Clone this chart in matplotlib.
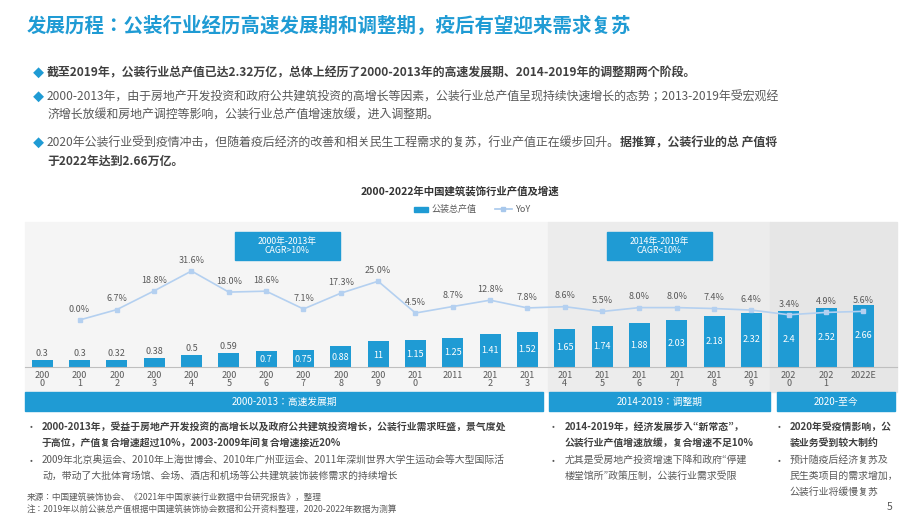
import matplotlib
matplotlib.use("Agg")
import matplotlib.pyplot as plt
from matplotlib.patches import Rectangle

plt.rcParams['font.family'] = ['Noto Sans CJK JP', 'DejaVu Sans']

years = ["200\n0","200\n1","200\n2","200\n3","200\n4","200\n5","200\n6","200\n7","200\n8","200\n9",
         "201\n0","2011","201\n2","201\n3","201\n4","201\n5","201\n6","201\n7","201\n8","201\n9",
         "202\n0","202\n1","2022E"]
output = [0.3,0.3,0.32,0.38,0.5,0.59,0.7,0.75,0.88,1.1,1.15,1.25,1.41,1.52,1.65,1.74,1.88,2.03,2.18,2.32,2.4,2.52,2.66]
output_labels = ["0.3","0.3","0.32","0.38","0.5","0.59","0.7","0.75","0.88","11","1.15","1.25","1.41","1.52",
                 "1.65","1.74","1.88","2.03","2.18","2.32","2.4","2.52","2.66"]
yoy = [None,0.0,6.7,18.8,31.6,18.0,18.6,7.1,17.3,25.0,4.5,8.7,12.8,7.8,8.6,5.5,8.0,8.0,7.4,6.4,3.4,4.9,5.6]

W, H = 920, 518
fig = plt.figure(figsize=(9.2, 5.18), dpi=100)
BLUE = '#1f9bd4'
DARK = '#404040'
GRAY = '#595959'

def fx(x): return x / W
def fy(y): return 1 - y / H
def T(x, y, s, **kw):
    kw.setdefault('va', 'center')
    return fig.text(fx(x), fy(y), s, **kw)

def seg(x, y, parts, size):
    r = fig.canvas.get_renderer()
    for s, bold in parts:
        t = T(x, y, s, fontsize=size, color=DARK if bold else GRAY, fontweight='bold' if bold else 'normal')
        bb = t.get_window_extent(r)
        x += bb.width

# Title
T(27, 26, "发展历程：公装行业经历高速发展期和调整期，疫后有望迎来需求复苏", fontsize=14, fontweight='bold', color=BLUE)

# top bullets
tfs = 8.6
for y in (73, 97, 143):
    T(33, y, "◆", fontsize=8, color=BLUE)
seg(47, 73, [("截至2019年，公装行业总产值已达2.32万亿，总体上经历了2000-2013年的高速发展期、2014-2019年的调整期两个阶段。", True)], tfs)
seg(47, 97, [("2000-2013年，由于房地产开发投资和政府公共建筑投资的高增长等因素，公装行业总产值呈现持续快速增长的态势；2013-2019年受宏观经", False)], tfs)
seg(47, 115, [("济增长放缓和房地产调控等影响，公装行业总产值增速放缓，进入调整期。", False)], tfs)
seg(47, 143, [("2020年公装行业受到疫情冲击，但随着疫后经济的改善和相关民生工程需求的复苏，行业产值正在缓步回升。", False), ("据推算，公装行业的总 产值将", True)], tfs)
seg(47, 161, [("于2022年达到2.66万亿。", True)], tfs)

# chart title & legend
T(460, 191, "2000-2022年中国建筑装饰行业产值及增速", fontsize=7.5, fontweight='bold', color='#333333', ha='center')
fig.patches.append(Rectangle((fx(414), fy(212)), 14/W, 5/H, transform=fig.transFigure, color=BLUE))
T(432, 209, "公装总产值", fontsize=6.5, color=GRAY)
fig.add_artist(plt.Line2D([fx(495), fx(512)], [fy(209), fy(209)], transform=fig.transFigure, color='#a8c8ec', lw=1.2))
fig.add_artist(plt.Line2D([fx(503.5)], [fy(209)], transform=fig.transFigure, marker='s', ms=3, color='#a8c8ec'))
T(516, 209, "YoY", fontsize=6.5, color=GRAY)

# background regions
for x0, x1, c in [(25, 548, '#f5f5f5'), (548, 770, '#ececec'), (770, 897, '#e6e6e6')]:
    fig.patches.append(Rectangle((fx(x0), fy(392)), (x1 - x0) / W, 170 / H, transform=fig.transFigure, color=c, zorder=-1))

# axes
ax = fig.add_axes([fx(25), fy(367), (897 - 25) / W, (367 - 222) / H], zorder=2)
ax.patch.set_alpha(0)
n = len(output)
xs = list(range(n))
ax.bar(xs, output, width=0.56, color=BLUE, zorder=2)
ax.set_xlim(-0.46, 22.9)
ax.set_ylim(0, 6.22)
for i, (v, lab) in enumerate(zip(output, output_labels)):
    if i < 6:
        ax.text(i, v + 0.08, lab, ha='center', va='bottom', fontsize=6.5, color=GRAY)
    else:
        ax.text(i, v / 2 if v > 1.2 else v * 0.45, lab, ha='center', va='center', fontsize=6.5, color='white')
ax.set_xticks(xs)
ax.set_xticklabels(years, fontsize=6.5, color=GRAY, linespacing=0.9)
ax.tick_params(axis='x', length=0, pad=3)
ax.set_yticks([])
for s in ('top', 'right', 'left'):
    ax.spines[s].set_visible(False)
ax.spines['bottom'].set_color('#bfbfbf')

ax2 = ax.twinx()
ax2.set_ylim(-30.3, 63.2)
lx = [i for i in xs if yoy[i] is not None]
ly = [yoy[i] for i in lx]
ax2.plot(lx, ly, color='#b4d0f0', lw=1.2, marker='s', ms=3.5, zorder=3)
for i, v in zip(lx, ly):
    ax2.text(i, v + 4, f"{v:.1f}%", ha='center', va='bottom', fontsize=6.5, color=GRAY)
ax2.axis('off')

# CAGR boxes
for x0, s in [(235, "2000年-2013年\nCAGR>10%"), (607, "2014年-2019年\nCAGR<10%")]:
    fig.patches.append(Rectangle((fx(x0), fy(260)), 105 / W, 28 / H, transform=fig.transFigure, color=BLUE, zorder=5))
    T(x0 + 52.5, 246, s, fontsize=6.3, color='white', ha='center', linespacing=1.0, zorder=6)

# period bands
for x0, x1, s in [(25, 543, "2000-2013：高速发展期"), (549, 770, "2014-2019：调整期"), (777, 895, "2020-至今")]:
    fig.patches.append(Rectangle((fx(x0), fy(411)), (x1 - x0) / W, 19 / H, transform=fig.transFigure, color=BLUE, zorder=5))
    T((x0 + x1) / 2, 401.5, s, fontsize=7, color='white', ha='center', zorder=6)

# lower bullets
fs = 7.1
for x, y in [(30, 427), (30, 460), (552, 427), (552, 460), (778, 427), (778, 460)]:
    T(x, y, "•", fontsize=6, color=GRAY)
seg(42, 427, [("2000-2013年，受益于房地产开发投资的高增长以及政府公共建筑投资增长，公装行业需求旺盛，景气度处", True)], fs)
seg(42, 443, [("于高位，产值复合增速超过10%，2003-2009年间复合增速接近20%", True)], fs)
seg(42, 460, [("2009年北京奥运会、2010年上海世博会、2010年广州亚运会、2011年深圳世界大学生运动会等大型国际活", False)], fs)
seg(42, 476, [("动，带动了大批体育场馆、会场、酒店和机场等公共建筑装饰装修需求的持续增长", False)], fs)
seg(565, 427, [("2014-2019年，经济发展步入“新常态”，", True)], fs)
seg(565, 443, [("公装行业产值增速放缓，复合增速不足10%", True)], fs)
seg(565, 460, [("尤其是受房地产投资增速下降和政府“停建", False)], fs)
seg(565, 476, [("楼堂馆所”政策压制，公装行业需求受限", False)], fs)
seg(790, 427, [("2020年受疫情影响，公", True)], fs)
seg(790, 443, [("装业务受到较大制约", True)], fs)
seg(790, 460, [("预计随疫后经济复苏及", False)], fs)
seg(790, 476, [("民生类项目的需求增加，", False)], fs)
seg(790, 492, [("公装行业将缓慢复苏", False)], fs)

T(27, 497, "来源：中国建筑装饰协会、《2021年中国家装行业数据中台研究报告》，整理", fontsize=6.2, color=GRAY)
T(27, 510, "注：2019年以前公装总产值根据中国建筑装饰协会数据和公开资料整理，2020-2022年数据为测算", fontsize=6.2, color=GRAY)
T(887, 507, "5", fontsize=7.5, color=GRAY)

fig.savefig("out.png", dpi=100)
